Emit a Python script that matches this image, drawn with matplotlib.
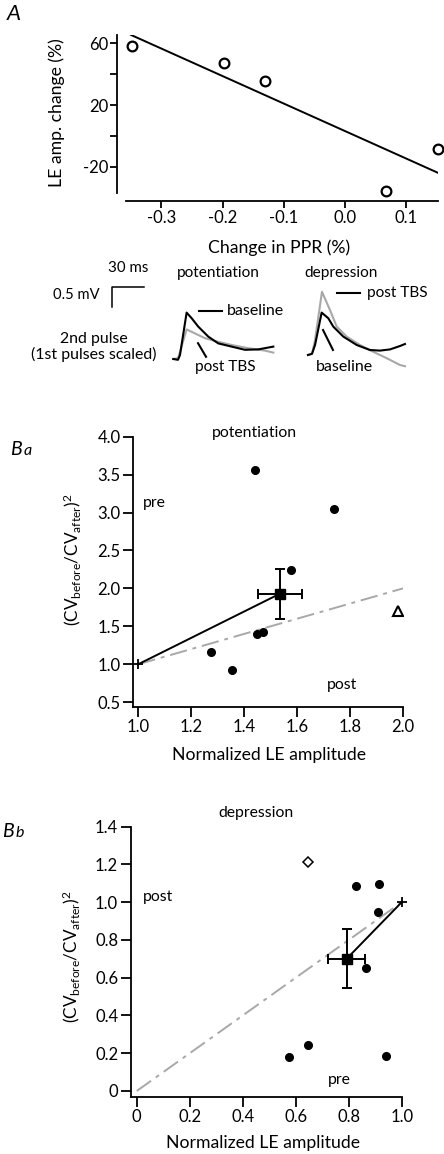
import numpy as np
import matplotlib
matplotlib.use("Agg")
import matplotlib.pyplot as plt

plt.rcParams['font.family'] = ['Lato', 'DejaVu Sans']
plt.rcParams['mathtext.fontset'] = 'custom'
plt.rcParams['mathtext.rm'] = 'Lato'
plt.rcParams['mathtext.it'] = 'Lato:italic'

# ---- data ----
# A: change in PPR vs LE amplitude change
ppr_change = [-0.349, -0.197, -0.130, 0.067, 0.152]
le_change = [58.3, 46.9, 35.5, -35.3, -8.4]

# Ba: potentiation
pot_amp = [1.44, 1.74, 1.576, 1.447, 1.47, 1.274, 1.355]
pot_cv = [3.56, 3.05, 2.24, 1.40, 1.43, 1.16, 0.93]
pot_outlier = (1.98, 1.70)
pot_mean = (1.535, 1.93)
pot_err = (0.082, 0.33)

# Bb: depression
dep_amp = [0.828, 0.914, 0.909, 0.865, 0.575, 0.648, 0.941]
dep_cv = [1.088, 1.098, 0.949, 0.65, 0.178, 0.241, 0.187]
dep_outlier = (0.648, 1.215)
dep_mean = (0.792, 0.70)
dep_err = (0.07, 0.157)

# example traces (ms, mV relative to pre-stimulus baseline)
pot_t = [0, 4.4, 6.3, 12.5, 17.2, 23.4, 32.8, 42.2, 54.7, 67.2, 79.7, 93.8]
pot_base = [0, -0.02, 0.1, 1.16, 1.02, 0.81, 0.56, 0.39, 0.31, 0.23, 0.24, 0.31]
pot_gt = [0, 4.4, 6.3, 12.5, 20.3, 29.7, 42.2, 54.7, 70.3, 85.9, 93.8]
pot_post = [0, 0.02, 0.18, 0.74, 0.64, 0.52, 0.43, 0.35, 0.27, 0.21, 0.16]

dep_gt = [0, 3.75, 6.6, 13.1, 20.6, 26.9, 36.3, 48.75, 61.2, 73.8, 86.25, 90.9]
dep_post = [0, 0.03, 0.375, 1.58, 1.125, 0.71, 0.46, 0.25, 0.08, -0.08, -0.25, -0.28]
dep_t = [0, 3.75, 6.6, 12.8, 19.0, 23.7, 33.1, 45.7, 58.1, 67.5, 76.9, 86.25, 90.9]
dep_base = [0, 0.03, 0.25, 1.06, 0.92, 0.71, 0.46, 0.25, 0.125, 0.11, 0.14, 0.225, 0.275]

W, H = 444, 1154
fig = plt.figure(figsize=(W / 100, H / 100), dpi=100)

TICK = 12
LAB = 12.7
ANN = 11.3


def box(l, r, t, b):
    return [l / W, 1 - b / H, (r - l) / W, (b - t) / H]


def ftext(x, y, s, **kw):
    kw.setdefault('fontsize', ANN)
    kw.setdefault('va', 'center')
    fig.text(x / W, 1 - y / H, s, **kw)


def style(ax, ticklen=7.5):
    for s in ['top', 'right']:
        ax.spines[s].set_visible(False)
    for s in ['left', 'bottom']:
        ax.spines[s].set_linewidth(1.3)
    ax.tick_params(direction='out', length=ticklen, width=1.3, labelsize=TICK, pad=1.5)


black = '#000000'
grey = '#a8a8a8'

# ---- A ----
axA = fig.add_axes(box(126, 438, 35, 193))
style(axA, ticklen=5)
axA.spines['left'].set_position(('outward', 6.5))
axA.spines['bottom'].set_position(('outward', 5.8))
axA.set_xlim(-0.358, 0.152)
axA.set_ylim(-36.8, 65.2)
slope, icpt = np.polyfit(ppr_change, le_change, 1)
xl = np.array([-0.35, 0.152])
axA.plot(xl, icpt + slope * xl, color=black, lw=1.4)
axA.plot(ppr_change, le_change, 'o', mfc='white', mec=black, mew=1.6, ms=7, clip_on=False)
axA.set_yticks([-20, 0, 20, 40, 60])
axA.set_yticklabels(['-20', '', '20', '', '60'])
axA.set_xticks([-0.3, -0.2, -0.1, 0.0, 0.1])
axA.set_xticklabels(['-0.3', '-0.2', '-0.1', '0.0', '0.1'])
ftext(14, 20, 'A', fontsize=16, style='italic', ha='center', va='baseline')
ftext(57, 113, 'LE amp. change (%)', rotation=90, ha='center', fontsize=LAB)
ftext(279, 248, 'Change in PPR (%)', ha='center', fontsize=LAB)

# ---- traces ----
axT = fig.add_axes(box(100, 420, 270, 375))
axT.axis('off')
axT.set_xlim(0, 300)
axT.set_ylim(-0.375, 2.25)
t0p, v0p = 68.7, 0.025
t0d, v0d = 195.0, 0.125
axT.plot(np.array(pot_gt) + t0p, np.array(pot_post) + v0p, color=grey, lw=1.5)
axT.plot(np.array(pot_t) + t0p, np.array(pot_base) + v0p, color=black, lw=1.5)
axT.plot(np.array(dep_gt) + t0d, np.array(dep_post) + v0d, color=grey, lw=1.5)
axT.plot(np.array(dep_t) + t0d, np.array(dep_base) + v0d, color=black, lw=1.5)
# scale bar 30 ms / 0.5 mV
axT.plot([11, 11, 41], [1.33, 1.83, 1.83], color=black, lw=1.1)
# label pointers
axT.plot([92.8, 114.4], [1.22, 1.22], color=black, lw=1.5)
axT.plot([91.9, 99.4], [0.42, 0.08], color=black, lw=1.5)
axT.plot([222.2, 243.8], [1.68, 1.68], color=black, lw=1.5)
axT.plot([209.1, 218.4], [0.75, 0.25], color=black, lw=1.5)
ftext(128, 268, '30 ms', ha='center', fontsize=10.8)
ftext(100, 295, '0.5 mV', ha='right', fontsize=10.6)
ftext(94, 347, '2nd pulse\n(1st pulses scaled)', ha='center', fontsize=11.4, linespacing=1.05)
ftext(218, 273, 'potentiation', ha='center', fontsize=11.1)
ftext(341, 273, 'depression', ha='center', fontsize=11.1)
ftext(227, 311, 'baseline', ha='left', fontsize=11.5)
ftext(195, 367, 'post TBS', ha='left', fontsize=11.1)
ftext(367, 293, 'post TBS', ha='left', fontsize=11.1)
ftext(316, 367, 'baseline', ha='left', fontsize=11.5)

ylab = r'(CV$_{\mathrm{before}}$/CV$_{\mathrm{after}}$)$^{2}$'

# ---- Ba ----
axBa = fig.add_axes(box(133, 403, 436.7, 706.7))
style(axBa)
axBa.set_xlim(0.98, 2.0)
axBa.set_ylim(0.44, 4.0)
axBa.plot([1, 2], [1, 2], color=grey, lw=1.4, ls=(0, (9, 3, 2, 3)))
axBa.plot([1, pot_mean[0]], [1, pot_mean[1]], color=black, lw=1.4)
axBa.plot([1], [1], '+', color=black, ms=7, mew=1.3)
axBa.plot(pot_amp, pot_cv, 'o', color=black, ms=5.5)
axBa.plot(*pot_outlier, '^', mfc='white', mec=black, mew=1.5, ms=6.5)
axBa.errorbar(*pot_mean, xerr=pot_err[0], yerr=pot_err[1], fmt='s', color=black,
              ms=6.5, lw=1.4, capsize=3.5, capthick=1.4)
axBa.set_xticks([1.0, 1.2, 1.4, 1.6, 1.8, 2.0])
axBa.set_xticklabels(['1.0', '1.2', '1.4', '1.6', '1.8', '2.0'])
axBa.set_yticks([0.5, 1.0, 1.5, 2.0, 2.5, 3.0, 3.5, 4.0])
axBa.set_yticklabels(['0.5', '1.0', '1.5', '2.0', '2.5', '3.0', '3.5', '4.0'])
ftext(254, 433, 'potentiation', ha='center')
ftext(143, 503, 'pre', ha='left')
ftext(327, 685, 'post', ha='left')
ftext(269, 755, 'Normalized LE amplitude', ha='center', fontsize=LAB)
ftext(72, 560, ylab, rotation=90, ha='center', fontsize=12.3)
ftext(10, 455, 'B', ha='left', va='baseline', fontsize=14, style='italic')
ftext(24, 455, 'a', ha='left', va='baseline', fontsize=11.5, style='italic')

# ---- Bb ----
axBb = fig.add_axes(box(130.7, 401.7, 826.7, 1097))
style(axBb)
axBb.set_xlim(-0.023, 1.0)
axBb.set_ylim(-0.032, 1.4)
axBb.plot([0, 1], [0, 1], color=grey, lw=1.4, ls=(0, (9, 3, 2, 3)))
axBb.plot([1, dep_mean[0]], [1, dep_mean[1]], color=black, lw=1.4)
axBb.plot([1], [1], '+', color=black, ms=7, mew=1.3, clip_on=False)
axBb.plot(dep_amp, dep_cv, 'o', color=black, ms=5.5)
axBb.plot(*dep_outlier, 'D', mfc='white', mec=black, mew=1.1, ms=5.5)
axBb.errorbar(*dep_mean, xerr=dep_err[0], yerr=dep_err[1], fmt='s', color=black,
              ms=6.5, lw=1.4, capsize=3.5, capthick=1.4)
axBb.set_xticks([0, 0.2, 0.4, 0.6, 0.8, 1.0])
axBb.set_xticklabels(['0', '0.2', '0.4', '0.6', '0.8', '1.0'])
axBb.set_yticks([0, 0.2, 0.4, 0.6, 0.8, 1.0, 1.2, 1.4])
axBb.set_yticklabels(['0', '0.2', '0.4', '0.6', '0.8', '1.0', '1.2', '1.4'])
ftext(256, 813, 'depression', ha='center')
ftext(143, 897, 'post', ha='left')
ftext(328, 1080, 'pre', ha='left')
ftext(263, 1143, 'Normalized LE amplitude', ha='center', fontsize=LAB)
ftext(71, 957, ylab, rotation=90, ha='center', fontsize=12.3)
ftext(2, 837, 'B', ha='left', va='baseline', fontsize=14, style='italic')
ftext(16, 837, 'b', ha='left', va='baseline', fontsize=11.5, style='italic')

fig.savefig('out.png', dpi=100)
